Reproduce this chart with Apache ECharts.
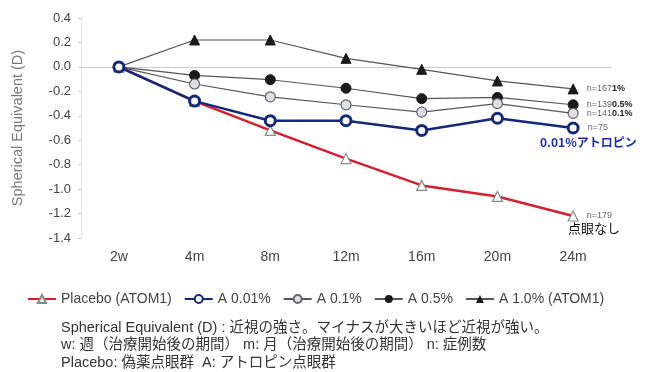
<!DOCTYPE html>
<html>
<head>
<meta charset="utf-8">
<script src="https://cdn.jsdelivr.net/npm/echarts@6/dist/echarts.min.js"></script>
<style>
  html, body { margin: 0; padding: 0; background: #fff; }
  #chart { width: 651px; height: 372px; }
</style>
</head>
<body>
<div id="chart"></div>
<script>
// 横軸（治療開始後の期間）
const periods = ['2w', '4m', '8m', '12m', '16m', '20m', '24m']

// 各群の Spherical Equivalent (D)
const placebo = [0, -0.28, -0.52, -0.75, -0.97, -1.06, -1.22]
const atro001 = [0, -0.28, -0.44, -0.44, -0.52, -0.42, -0.50]
const atro01 = [0, -0.14, -0.245, -0.31, -0.37, -0.30, -0.38]
const atro05 = [0, -0.07, -0.105, -0.175, -0.26, -0.25, -0.31]
const atro10 = [0, 0.22, 0.22, 0.07, -0.02, -0.115, -0.18]

const seriesNames = ['Placebo (ATOM1)', 'A 0.01%', 'A 0.1%', 'A 0.5%', 'A 1.0% (ATOM1)']
const endLabels = ['n=179', 'n=75', 'n=141 0.1%', 'n=139 0.5%', 'n=167 1%']

const chart = echarts.init(document.getElementById('chart'))

const fontEn = '"Liberation Sans", Arial, sans-serif'
const fontJp = '"Noto Sans CJK JP", sans-serif'
const fontMix = '"Liberation Sans", "Noto Sans CJK JP", sans-serif'

// 最後の点だけラベルを付ける
function withEndLabel(values, text) {
  return values.map(function (v, i) {
    if (i !== values.length - 1) return v
    const parts = text.split(' ')
    return {
      value: v,
      label: {
        show: true,
        position: 'right',
        distance: 8,
        formatter: parts.length > 1 ? '{n|' + parts[0] + '}{p|' + parts[1] + '}' : '{n|' + parts[0] + '}',
        rich: {
          n: { fontFamily: fontEn, fontSize: 9, color: '#666' },
          p: { fontFamily: fontEn, fontSize: 9, color: '#222', fontWeight: 'bold' }
        }
      }
    }
  })
}

const option = {
  animation: false,
  backgroundColor: '#fff',
  grid: { left: 81, right: 40, top: 18, bottom: 134 },
  xAxis: {
    type: 'category',
    data: periods,
    axisLine: { lineStyle: { color: '#ccc' } },
    axisTick: { show: false },
    axisLabel: { color: '#444', fontFamily: fontEn, fontSize: 14, margin: 12 }
  },
  yAxis: {
    type: 'value',
    min: -1.4,
    max: 0.4,
    interval: 0.2,
    name: 'Spherical Equivalent (D)',
    nameLocation: 'middle',
    nameGap: 56,
    nameTextStyle: { color: '#777', fontFamily: fontEn, fontSize: 14.5 },
    axisLine: { show: true, lineStyle: { color: '#e4e4e4' } },
    axisTick: { show: true, length: 3, lineStyle: { color: '#ccc' } },
    splitLine: { show: false },
    axisLabel: {
      color: '#444', fontFamily: fontEn, fontSize: 13, margin: 10,
      formatter: function (v) { return v.toFixed(1) }
    }
  },
  legend: {
    left: 22,
    top: 287,
    itemWidth: 28,
    itemHeight: 10,
    itemGap: 12,
    textStyle: { color: '#444', fontFamily: fontEn, fontSize: 14 },
    data: seriesNames
  },
  series: [
    {
      name: seriesNames[3], type: 'line', data: withEndLabel(atro05, endLabels[3]),
      symbol: 'circle', symbolSize: 10, z: 3,
      lineStyle: { color: '#555', width: 1.2 },
      itemStyle: { color: '#1a1a1a', borderColor: '#1a1a1a' }
    },
    {
      name: seriesNames[2], type: 'line', data: withEndLabel(atro01, endLabels[2]),
      symbol: 'circle', symbolSize: 10, z: 3,
      lineStyle: { color: '#555', width: 1.2 },
      itemStyle: { color: '#dde0e4', borderColor: '#666', borderWidth: 1.2 }
    },
    {
      name: seriesNames[4], type: 'line', data: withEndLabel(atro10, endLabels[4]),
      symbol: 'triangle', symbolSize: 10, z: 3,
      lineStyle: { color: '#555', width: 1.2 },
      itemStyle: { color: '#1a1a1a', borderColor: '#1a1a1a' }
    },
    {
      name: seriesNames[0], type: 'line', data: withEndLabel(placebo, endLabels[0]),
      symbol: 'triangle', symbolSize: 10, z: 4,
      lineStyle: { color: '#d4202e', width: 2.5 },
      itemStyle: { color: '#fff', borderColor: '#888', borderWidth: 1.2 }
    },
    {
      name: seriesNames[1], type: 'line', data: withEndLabel(atro001, endLabels[1]),
      symbol: 'circle', symbolSize: 10, z: 5,
      lineStyle: { color: '#142a78', width: 2.5 },
      itemStyle: { color: '#fff', borderColor: '#142a78', borderWidth: 3 }
    }
  ],
  graphic: [
    {
      type: 'text', left: 540, top: 136,
      style: { text: '0.01%アトロピン', fill: '#1c2fa8', font: 'bold 12px ' + fontJp }
    },
    {
      type: 'text', left: 568, top: 222,
      style: { text: '点眼なし', fill: '#111', font: '13px ' + fontJp }
    },
    {
      type: 'text', left: 61, top: 319,
      style: {
        text: 'Spherical Equivalent (D) : 近視の強さ。マイナスが大きいほど近視が強い。\nw: 週（治療開始後の期間） m: 月（治療開始後の期間） n: 症例数\nPlacebo: 偽薬点眼群  A: アトロピン点眼群',
        fill: '#333', font: '14.5px ' + fontMix, lineHeight: 17.5
      }
    }
  ]
}

chart.setOption(option)
</script>
</body>
</html>
